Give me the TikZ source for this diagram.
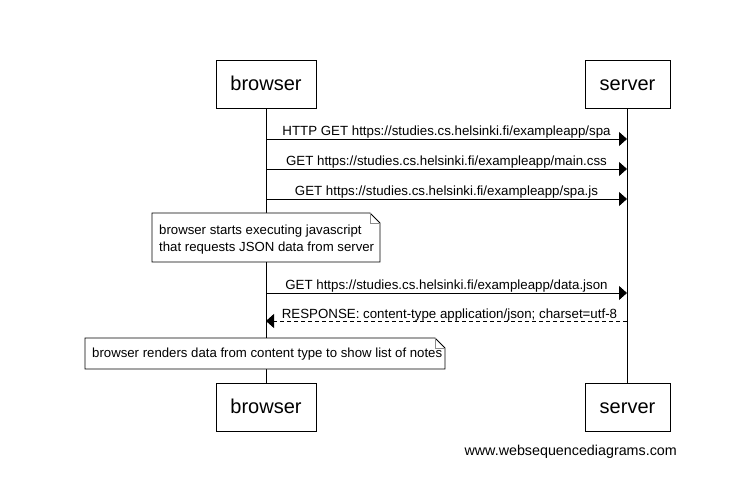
\documentclass[tikz,border=0pt]{standalone}
\usepackage{fontspec}
\setmainfont{Liberation Sans}
\usetikzlibrary{arrows.meta, positioning, calc}

\begin{document}
\begin{tikzpicture}[x=1pt, y=-1pt,
      actor/.style={draw, line width=0.8pt, minimum width=100pt, minimum
      height=48pt, inner sep=0pt, text height=16pt, text depth=3pt,
      font=\fontsize{20pt}{24pt}\selectfont},
      lifeline/.style={line width=0.8pt},
      msg/.style={line width=0.8pt, -{Triangle[length=8pt, width=14pt]}},
      reply/.style={msg, dashed, dash pattern=on 4pt off 3pt},
      msglabel/.style={font=\fontsize{13.3pt}{15pt}\selectfont, inner sep=0pt,
      anchor=base},
      note/.style={align=left, inner sep=0pt, font=\fontsize{13.2pt}{17pt}\selectfont},
      fold/.style={draw=black!45, line width=0.8pt} ]
    \useasboundingbox (0,0) rectangle (738,502);

    % Participants
    \node[actor] (bt) at (266,84) {browser}; \node[actor, minimum width=85pt]
    (st) at (627.5,84) {server}; \node[actor] (bb) at (266,407) {browser};
    \node[actor, minimum width=85pt] (sb) at (627.5,407) {server};

    % Lifelines
    \draw[lifeline] (bt.south) -- (bb.north); \draw[lifeline] (st.south) --
    (sb.north);

    % Anchor points on the lifelines
    \foreach \n/\y in {a/139, b/169, c/199, d/293, e/321} {
      \coordinate (b\n) at (266,\y); \coordinate (s\n) at (627,\y); }

    % Messages
    \draw[msg] (ba) -- (sa); \draw[msg] (bb) -- (sb); \draw[msg] (bc) -- (sc);
    \draw[msg] (bd) -- (sd); \draw[reply] (se) -- (be);

    % Message labels
    \node[msglabel] at ($(ba)!.5!(sa)+(0,-3)$) {HTTP GET
    https://studies.cs.helsinki.fi/exampleapp/spa}; \node[msglabel] at
    ($(bb)!.5!(sb)+(0,-3)$) {GET https://studies.cs.helsinki.fi/exampleapp/main.css};
    \node[msglabel] at ($(bc)!.5!(sc)+(0,-3)$) {GET
    https://studies.cs.helsinki.fi/exampleapp/spa.js}; \node[msglabel] at
    ($(bd)!.5!(sd)+(0,-3)$) {GET https://studies.cs.helsinki.fi/exampleapp/data.json};
    \node[msglabel] at ($(be)!.5!(se)+(3,-3)$) {RESPONSE: content-type
    application/json; charset=utf-8};

    % Notes
    \fill[white] (152,213) -- (370,213) -- (380,223) -- (380,262) -- (152,262)
    -- cycle; \draw[line width=0.8pt] (152,213) -- (370,213) -- (380,223) --
    (380,262) -- (152,262) -- cycle; \draw[fold] (370,213) -- (370,223) --
    (380,223);
    \node[note, anchor=base west] (n1) at (159,252) {browser starts executing
    javascript\\that requests JSON data from server};

    \fill[white] (85,338) -- (435,338) -- (445,348) -- (445,369) -- (85,369) --
    cycle; \draw[line width=0.8pt] (85,338) -- (435,338) -- (445,348) --
    (445,369) -- (85,369) -- cycle; \draw[fold] (435,338) -- (435,348) --
    (445,348);
    \node[note, anchor=base west] (n2) at (92,357) {browser renders data from
    content type to show list of notes};

    % Footer
    \node[font=\fontsize{14.3pt}{16pt}\selectfont, anchor=base east, inner sep=0pt]
    (wsd) at (677,455) {www.websequencediagrams.com};

    \end{tikzpicture}
\end{document}
